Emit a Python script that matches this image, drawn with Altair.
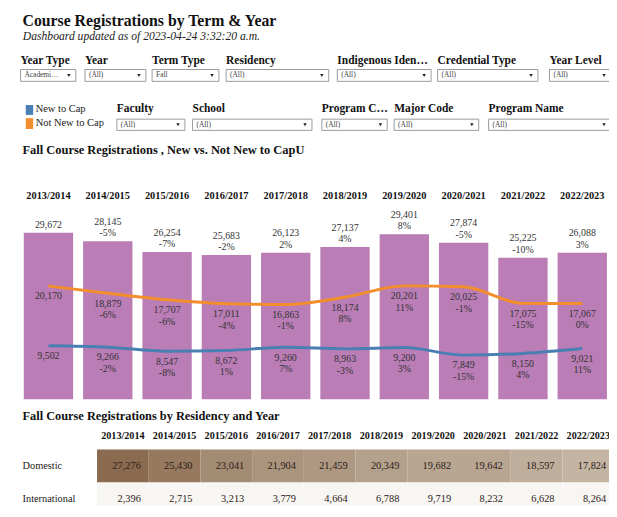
import altair as alt
import pandas as pd

FONT = "Liberation Serif"
TXT = "#222222"

# ---------------- chart values ----------------
years = ["2013/2014", "2014/2015", "2015/2016", "2016/2017", "2017/2018",
         "2018/2019", "2019/2020", "2020/2021", "2021/2022", "2022/2023"]
total_registrations = [29672, 28145, 26254, 25683, 26123, 27137, 29401, 27874, 25225, 26088]
total_change = [None, -5, -7, -2, 2, 4, 8, -5, -10, 3]
not_new_to_cap = [20170, 18879, 17707, 17011, 16863, 18174, 20201, 20025, 17075, 17067]
not_new_change = [None, -6, -6, -4, -1, 8, 11, -1, -15, 0]
new_to_cap = [9502, 9266, 8547, 8672, 9260, 8963, 9200, 7849, 8150, 9021]
new_change = [None, -2, -8, 1, 7, -3, 3, -15, 4, 11]

residencies = ["Domestic", "International"]
domestic = [27276, 25430, 23041, 21904, 21459, 20349, 19682, 19642, 18597, 17824]
international = [2396, 2715, 3213, 3779, 4664, 6788, 9719, 8232, 6628, 8264]

series_names = ["New to Cap", "Not New to Cap"]
series_colors = ["#4a7fb4", "#f28e2b"]

title = "Course Registrations by Term & Year"
subtitle = "Dashboard updated as of 2023-04-24 3:32:20 a.m."
chart_title = "Fall  Course Registrations , New vs. Not New to CapU"
table_title = "Fall Course Registrations by Residency and Year"

filter_labels = ["Year Type", "Year", "Term Type", "Residency", "Indigenous Iden\u2026",
                 "Credential Type", "Year Level", "Faculty", "School", "Program C\u2026",
                 "Major Code", "Program Name"]
filter_values = ["Academi\u2026", "(All)", "Fall", "(All)", "(All)", "(All)", "(All)",
                 "(All)", "(All)", "(All)", "(All)", "(All)"]

# ---------------- layout of the filter widgets (pixels) ----------------
box_left = [12.7, 78, 146, 221, 333.7, 435.3, 548.7, 110.3, 187, 318, 391.3, 487]
box_right = [68.7, 139.7, 213.7, 325, 428.7, 537, 611, 179.3, 308, 384.3, 477, 611]
box_row = [0, 0, 0, 0, 0, 0, 0, 1, 1, 1, 1, 1]
row_label_y = [53, 101.7]
row_box_top = [59, 109.3]
row_box_bottom = [71, 120.7]

color_scale = alt.Scale(domain=series_names, range=series_colors)


def fmt_top(v, p):
    # label above a bar: value on first line, change on second
    return f"\n{v:,}" if p is None else f"{v:,}\n{p}%"


def fmt_below(v, p):
    return f"{v:,}" if p is None else f"{v:,}\n{p}%"


def text_item(text, x, y, size, weight="normal", style="normal", color=TXT):
    return alt.Chart(pd.DataFrame({"t": [text]})).mark_text(
        font=FONT, fontSize=size, fontWeight=weight, fontStyle=style,
        align="left", baseline="alphabetic", color=color
    ).encode(x=alt.value(x), y=alt.value(y), text="t:N")


# ---------------- panel 1: header / filters / legend ----------------
w = pd.DataFrame({"label": filter_labels, "value": filter_values,
                  "x0": box_left, "x1": box_right, "row": box_row})
w["ly"] = [row_label_y[r] for r in w["row"]]
w["y0"] = [row_box_top[r] for r in w["row"]]
w["y1"] = [row_box_bottom[r] for r in w["row"]]
w["ym"] = (w["y0"] + w["y1"]) / 2
w["xa"] = w["x1"] - 7

X = lambda f: alt.X(f, scale=None, axis=None)
Y = lambda f: alt.Y(f, scale=None, axis=None)

w_labels = alt.Chart(w).mark_text(font=FONT, fontSize=11.6, fontWeight="bold", align="left",
                                  baseline="alphabetic", color="#111", clip=True).encode(
    x=X("x0:Q"), y=Y("ly:Q"), text="label:N")
w_boxes = alt.Chart(w).mark_rect(fill="white", stroke="#9a9a9a", strokeWidth=1, clip=True).encode(
    x=X("x0:Q"), x2="x1:Q", y=Y("y0:Q"), y2="y1:Q")
w_vals = alt.Chart(w).mark_text(font=FONT, fontSize=7.5, align="left", baseline="middle",
                                dx=4, color="#444").encode(x=X("x0:Q"), y=Y("ym:Q"), text="value:N")
w_arrows = alt.Chart(w).mark_point(shape="triangle-down", filled=True, size=12, color="#222",
                                   opacity=1, clip=True).encode(x=X("xa:Q"), y=Y("ym:Q"))

leg = pd.DataFrame({"series": series_names, "y0": [95, 108.3], "y1": [105, 119.3],
                    "ty": [101.7, 116.7]})
leg_sq = alt.Chart(leg).mark_rect().encode(
    x=alt.value(18), x2=alt.value(25.5), y=Y("y0:Q"), y2="y1:Q",
    color=alt.Color("series:N", scale=color_scale, legend=None))
leg_tx = alt.Chart(leg).mark_text(font=FONT, fontSize=10.6, align="left", baseline="alphabetic",
                                  color=TXT).encode(x=alt.value(28), y=Y("ty:Q"), text="series:N")

p1 = alt.layer(
    text_item(title, 14.7, 15.3, 16.0, weight="bold", color="#111"),
    text_item(subtitle, 15, 29.5, 11.8, style="italic"),
    w_boxes, w_labels, w_vals, w_arrows, leg_sq, leg_tx,
    text_item(chart_title, 14.7, 145, 12.6, weight="bold", color="#111"),
).properties(width=609, height=162)

# ---------------- panel 2: bars + lines ----------------
bars_df = pd.DataFrame({"year": years, "value": total_registrations,
                        "lbl": [fmt_top(v, p) for v, p in zip(total_registrations, total_change)]})
lines_df = pd.concat([
    pd.DataFrame({"year": years, "value": new_to_cap, "series": series_names[0],
                  "lbl": [fmt_below(v, p) for v, p in zip(new_to_cap, new_change)]}),
    pd.DataFrame({"year": years, "value": not_new_to_cap, "series": series_names[1],
                  "lbl": [fmt_below(v, p) for v, p in zip(not_new_to_cap, not_new_change)]}),
])

x_bar = alt.X("year:N", axis=None,
              scale=alt.Scale(domain=years, range=[10.95, 611.95],
                              paddingInner=0.168, paddingOuter=0.084))
y_val = alt.Y("value:Q", axis=None, scale=alt.Scale(domain=[0, 40656]))

bars = alt.Chart(bars_df).mark_bar(color="#ba7db6").encode(x=x_bar, y=y_val)
lines = alt.Chart(lines_df).mark_line(interpolate="monotone", strokeWidth=3).encode(
    x=x_bar, y=y_val, color=alt.Color("series:N", scale=color_scale, legend=None))
bar_labels = alt.Chart(bars_df).mark_text(
    font=FONT, fontSize=10, baseline="bottom", dy=-14.6, lineBreak="\n", lineHeight=11.6,
    color="#333").encode(x=x_bar, y=y_val, text="lbl:N")
line_labels = alt.Chart(lines_df).mark_text(
    font=FONT, fontSize=10, baseline="top", dy=5.5, lineBreak="\n", lineHeight=11.6,
    color="#333").encode(x=x_bar, y=y_val, text="lbl:N")
year_heads = alt.Chart(bars_df).mark_text(
    font=FONT, fontSize=10.5, fontWeight="bold", baseline="alphabetic", color="#111").encode(
    x=x_bar, y=alt.value(28.5), text="year:N")

p2 = alt.layer(bars, lines, bar_labels, line_labels, year_heads).properties(width=609, height=231)

# ---------------- panel 3: residency table ----------------
tab_df = pd.concat([
    pd.DataFrame({"year": years, "residency": residencies[0], "value": domestic}),
    pd.DataFrame({"year": years, "residency": residencies[1], "value": international}),
])
tab_df["lbl"] = [f"{v:,}" for v in tab_df["value"]]

tab_scale = alt.Scale(domain=years, range=[90.2, 614.2], paddingInner=0, paddingOuter=0)
x_tab = alt.X("year:N", axis=None, scale=tab_scale)
y_tab = alt.Y("residency:N", axis=None,
              scale=alt.Scale(domain=residencies, range=[51, 118], paddingInner=0, paddingOuter=0))

cells = alt.Chart(tab_df).mark_rect(clip=True).encode(
    x=x_tab, y=y_tab,
    color=alt.Color("value:Q", legend=None,
                    scale=alt.Scale(domain=[9800, 27276], range=["#f8f6f3", "#8b6b50"], clamp=True)))
nums = alt.Chart(tab_df).mark_text(
    font=FONT, fontSize=10.5, align="right", baseline="middle", dx=-8, color="#2b2018",
    clip=True).encode(x=alt.X("year:N", axis=None, scale=tab_scale, bandPosition=1),
                      y=y_tab, text="lbl:N")
tab_heads = alt.Chart(pd.DataFrame({"year": years})).mark_text(
    font=FONT, fontSize=10.3, fontWeight="bold", baseline="alphabetic", color="#111",
    clip=True).encode(x=x_tab, y=alt.value(40.7), text="year:N")
row_labels = alt.Chart(pd.DataFrame({"residency": residencies})).mark_text(
    font=FONT, fontSize=10.5, align="left", baseline="middle", color=TXT).encode(
    x=alt.value(14.7), y=y_tab, text="residency:N")

p3 = alt.layer(
    cells, nums, tab_heads, row_labels,
    text_item(table_title, 14.7, 20.7, 12.5, weight="bold", color="#111"),
).properties(width=609, height=108)

chart = alt.vconcat(p1, p2, p3, spacing=0, bounds="flush").properties(
    padding=0, background="white").configure_view(strokeWidth=0)

chart.save("out.html", embed_options={"renderer": "svg", "actions": False})
